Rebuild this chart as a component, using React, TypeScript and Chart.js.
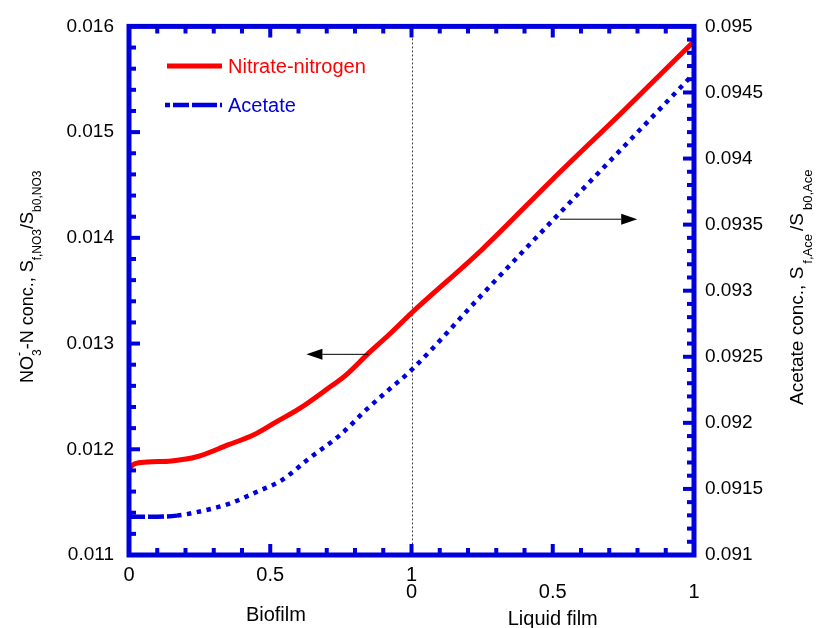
import React, { useEffect, useRef } from "react";
import { Chart, registerables } from "chart.js";

Chart.register(...registerables);

const FONT = "'Liberation Sans', Arial, sans-serif";
const BLUE = "rgb(0,0,220)";
const RED = "rgb(255,0,0)";

// Dimensionless position: 0–1 biofilm, 1–2 liquid film
const nitrateX = [0, 0.02, 0.065, 0.15, 0.24, 0.35, 0.44, 0.52, 0.6, 0.7, 0.77, 0.85, 0.92, 1.0, 1.25, 1.5, 1.75, 2.0];
const nitrateY = [0.01182, 0.011863, 0.01188, 0.01189, 0.011929, 0.012041, 0.012135, 0.012257, 0.012379, 0.012567, 0.012707, 0.012914, 0.013083, 0.013289, 0.01389, 0.014555, 0.0152, 0.015859];
const acetateX = [0, 0.1, 0.17, 0.23, 0.35, 0.46, 0.54, 0.64, 0.75, 0.84, 0.92, 1.0, 1.25, 1.5, 1.75, 2.0];
const acetateY = [0.09129, 0.09129, 0.091298, 0.09132, 0.091385, 0.091485, 0.091565, 0.091735, 0.091913, 0.0921, 0.092251, 0.0924, 0.092971, 0.093533, 0.094087, 0.094644];

const xRange = [0, 2];
const xTickValues = [0, 0.5, 1, 1.5, 2];
const biofilmTickLabels = ["0", "0.5", "1", "", ""];
const liquidTickLabels = ["", "", "0", "0.5", "1"];
const xMinorStep = 0.1;

const leftRange = [0.011, 0.016];
const leftMajorStep = 0.001;
const leftMinorStep = 0.0002;
const rightRange = [0.091, 0.095];
const rightMajorStep = 0.0005;
const rightMinorStep = 0.0001;

const legendNames = ["Nitrate-nitrogen", "Acetate"];
const groupNames = ["Biofilm", "Liquid film"];

// arrows pointing to each curve's axis
const arrowFromX = [0.847, 1.526];
const arrowToX = [0.628, 1.799];
const arrowY = [0.012898, 0.093541];
const arrowAxis = ["y", "y2"];

function drawRich(ctx: CanvasRenderingContext2D, pieces: any[], x: number, y: number) {
  ctx.save();
  ctx.translate(x, y);
  ctx.rotate(-Math.PI / 2);
  ctx.textAlign = "left";
  ctx.textBaseline = "alphabetic";
  ctx.fillStyle = "#000";
  let cx = 0;
  let held = 0;
  for (const p of pieces) {
    ctx.font = `${p.size}px ${FONT}`;
    ctx.fillText(p.text, cx, p.dy);
    const w = ctx.measureText(p.text).width;
    if (p.hold) {
      held = w;
    } else {
      cx += Math.max(w, held) + (p.gap || 0);
      held = 0;
    }
  }
  ctx.restore();
}

const decorPlugin = {
  id: "decor",
  beforeDatasetsDraw(chart: any) {
    const { ctx, chartArea, scales } = chart;
    const xp = scales.x.getPixelForValue(1);
    ctx.save();
    ctx.strokeStyle = "#444";
    ctx.lineWidth = 1;
    ctx.setLineDash([2, 2]);
    ctx.beginPath();
    ctx.moveTo(Math.round(xp) + 0.5, chartArea.top);
    ctx.lineTo(Math.round(xp) + 0.5, chartArea.bottom);
    ctx.stroke();
    ctx.restore();
  },
  afterDatasetsDraw(chart: any) {
    const { ctx, scales } = chart;
    const sx = scales.x, sy = scales.y, sy2 = scales.y2;
    const L = sx.getPixelForValue(xRange[0]);
    const R = sx.getPixelForValue(xRange[1]);
    const T = sy.getPixelForValue(leftRange[1]);
    const B = sy.getPixelForValue(leftRange[0]);
    ctx.save();
    ctx.strokeStyle = BLUE;
    ctx.lineWidth = 5;
    ctx.lineJoin = "miter";
    ctx.strokeRect(L, T, R - L, B - T);
    ctx.lineWidth = 4;
    ctx.lineCap = "butt";
    const minorLen = 7, majorLen = 11;
    const nx = Math.round((xRange[1] - xRange[0]) / xMinorStep);
    for (let i = 1; i < nx; i++) {
      const v = xRange[0] + i * xMinorStep;
      const major = i % 5 === 0;
      const len = major ? majorLen : minorLen;
      const px = sx.getPixelForValue(v);
      ctx.beginPath();
      ctx.moveTo(px, B); ctx.lineTo(px, B - len);
      ctx.moveTo(px, T); ctx.lineTo(px, T + len);
      ctx.stroke();
    }
    const nl = Math.round((leftRange[1] - leftRange[0]) / leftMinorStep);
    const lr = Math.round(leftMajorStep / leftMinorStep);
    for (let i = 1; i < nl; i++) {
      const v = leftRange[0] + i * leftMinorStep;
      const len = i % lr === 0 ? majorLen : minorLen;
      const py = sy.getPixelForValue(v);
      ctx.beginPath(); ctx.moveTo(L, py); ctx.lineTo(L + len, py); ctx.stroke();
    }
    const nr = Math.round((rightRange[1] - rightRange[0]) / rightMinorStep);
    const rr = Math.round(rightMajorStep / rightMinorStep);
    for (let i = 1; i < nr; i++) {
      const v = rightRange[0] + i * rightMinorStep;
      const len = i % rr === 0 ? majorLen : minorLen;
      const py = sy2.getPixelForValue(v);
      ctx.beginPath(); ctx.moveTo(R, py); ctx.lineTo(R - len, py); ctx.stroke();
    }
    ctx.restore();
  },
  afterDraw(chart: any) {
    const { ctx, scales } = chart;
    const sx = scales.x;
    ctx.save();
    // legend
    ctx.lineCap = "butt";
    ctx.strokeStyle = RED;
    ctx.lineWidth = 5;
    ctx.beginPath(); ctx.moveTo(167, 66); ctx.lineTo(222, 66); ctx.stroke();
    ctx.strokeStyle = BLUE;
    ctx.lineWidth = 4.5;
    ctx.setLineDash([5, 3, 16, 3, 25, 3]);
    ctx.beginPath(); ctx.moveTo(165, 105); ctx.lineTo(222, 105); ctx.stroke();
    ctx.setLineDash([]);
    ctx.font = `20px ${FONT}`;
    ctx.textBaseline = "middle";
    ctx.textAlign = "left";
    ctx.fillStyle = RED;
    ctx.fillText(legendNames[0], 228, 67);
    ctx.fillStyle = BLUE;
    ctx.fillText(legendNames[1], 228, 106);

    // arrows
    ctx.strokeStyle = "#000";
    ctx.fillStyle = "#000";
    ctx.lineWidth = 1;
    for (let i = 0; i < arrowY.length; i++) {
      const ys = scales[arrowAxis[i]];
      const py = ys.getPixelForValue(arrowY[i]);
      const x0 = sx.getPixelForValue(arrowFromX[i]);
      const x1 = sx.getPixelForValue(arrowToX[i]);
      const dir = Math.sign(x1 - x0);
      const head = 16, half = 5.5;
      ctx.beginPath();
      ctx.moveTo(x0, py); ctx.lineTo(x1 - dir * head, py); ctx.stroke();
      ctx.beginPath();
      ctx.moveTo(x1, py);
      ctx.lineTo(x1 - dir * head, py - half);
      ctx.lineTo(x1 - dir * head, py + half);
      ctx.closePath();
      ctx.fill();
    }

    // x tick labels (two rows)
    ctx.fillStyle = "#000";
    ctx.font = `20px ${FONT}`;
    ctx.textAlign = "center";
    ctx.textBaseline = "middle";
    xTickValues.forEach((v, i) => {
      const px = sx.getPixelForValue(v);
      if (biofilmTickLabels[i]) ctx.fillText(biofilmTickLabels[i], px, 575);
      if (liquidTickLabels[i]) ctx.fillText(liquidTickLabels[i], px, 592);
    });
    ctx.fillText(groupNames[0], sx.getPixelForValue(0.52), 615);
    ctx.fillText(groupNames[1], sx.getPixelForValue(1.5), 619);
    ctx.restore();

    // axis titles
    drawRich(ctx, [
      { text: "NO", size: 18, dy: 0 },
      { text: "3", size: 12, dy: 8, hold: true },
      { text: "-", size: 12, dy: -10 },
      { text: "-N conc., S", size: 18, dy: 0 },
      { text: "f,NO3", size: 12, dy: 8 },
      { text: "/S", size: 18, dy: 0 },
      { text: "b0,NO3", size: 12, dy: 8 },
    ], 33, 383);
    drawRich(ctx, [
      { text: "Acetate conc., S", size: 19, dy: 0, gap: 3 },
      { text: "f,Ace", size: 13, dy: 9, gap: 3 },
      { text: "/S", size: 19, dy: 0, gap: 3 },
      { text: "b0,Ace", size: 13, dy: 9 },
    ], 803, 405);
  },
};

export default function App() {
  const ref = useRef<HTMLCanvasElement | null>(null);
  useEffect(() => {
    document.body.style.margin = "0";
    const canvas = ref.current;
    if (!canvas) return;
    const chart = new Chart(canvas, {
      type: "line",
      data: {
        datasets: [
          {
            label: legendNames[0],
            data: nitrateX.map((x, i) => ({ x, y: nitrateY[i] })),
            yAxisID: "y",
            borderColor: RED,
            borderWidth: 5,
            pointRadius: 0,
            fill: false,
            cubicInterpolationMode: "monotone",
          },
          {
            label: legendNames[1],
            data: acetateX.map((x, i) => ({ x, y: acetateY[i] })),
            yAxisID: "y2",
            borderColor: BLUE,
            borderWidth: 4.5,
            pointRadius: 0,
            fill: false,
            cubicInterpolationMode: "monotone",
            borderDash: [4.5, 5.5],
            segment: {
              borderDash: (c: any) => (c.p0.parsed.x < 0.16 ? [16, 3] : [4.5, 5.5]),
            },
          },
        ],
      } as any,
      options: {
        responsive: false,
        animation: false,
        layout: { padding: { top: 21, left: 0, right: 0, bottom: 0 } },
        plugins: { legend: { display: false }, tooltip: { enabled: false } },
        scales: {
          x: {
            type: "linear",
            min: xRange[0],
            max: xRange[1],
            grid: { display: false, drawTicks: false },
            border: { display: false },
            ticks: { display: false },
            afterFit: (s: any) => { s.height = 73; },
          },
          y: {
            type: "linear",
            position: "left",
            min: leftRange[0],
            max: leftRange[1],
            grid: { display: false, drawTicks: false },
            border: { display: false },
            ticks: {
              stepSize: leftMajorStep,
              padding: 15,
              color: "#000",
              font: { family: FONT, size: 19 },
              callback: (v: any) => Number(v).toFixed(3),
            },
            afterFit: (s: any) => { s.width = 129; },
          },
          y2: {
            type: "linear",
            position: "right",
            min: rightRange[0],
            max: rightRange[1],
            grid: { display: false, drawTicks: false },
            border: { display: false },
            ticks: {
              stepSize: rightMajorStep,
              padding: 11,
              color: "#000",
              font: { family: FONT, size: 19 },
              callback: (v: any) => String(Number(Number(v).toFixed(4))),
            },
            afterFit: (s: any) => { s.width = 125; },
          },
        },
      } as any,
      plugins: [decorPlugin],
    });
    return () => chart.destroy();
  }, []);
  return <canvas ref={ref} width={819} height={628} style={{ display: "block" }} />;
}
